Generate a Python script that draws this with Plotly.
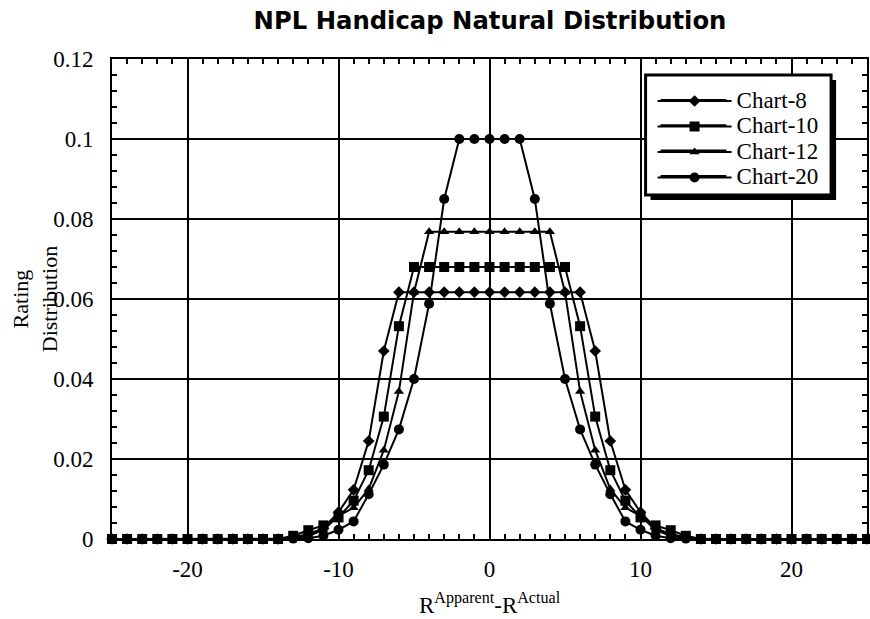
import plotly.graph_objects as go

x_vals = list(range(-25, 26))

chart8 = [0, 0, 0, 0, 0, 0, 0, 0, 0, 0, 0, 0,
          0.0005, 0.0012, 0.0027, 0.0067, 0.0123, 0.0245, 0.047,
          0.0617, 0.0617, 0.0617, 0.0617, 0.0617, 0.0617, 0.0617, 0.0617, 0.0617, 0.0617, 0.0617, 0.0617, 0.0617,
          0.047, 0.0245, 0.0123, 0.0067, 0.0027, 0.0012, 0.0005,
          0, 0, 0, 0, 0, 0, 0, 0, 0, 0, 0, 0]

chart10 = [0, 0, 0, 0, 0, 0, 0, 0, 0, 0, 0, 0,
           0.0008, 0.0022, 0.0034, 0.0054, 0.0096, 0.0172, 0.0306, 0.0532,
           0.068, 0.068, 0.068, 0.068, 0.068, 0.068, 0.068, 0.068, 0.068, 0.068, 0.068,
           0.0532, 0.0306, 0.0172, 0.0096, 0.0054, 0.0034, 0.0022, 0.0008,
           0, 0, 0, 0, 0, 0, 0, 0, 0, 0, 0, 0]

chart12 = [0, 0, 0, 0, 0, 0, 0, 0, 0, 0, 0, 0,
           0.0002, 0.0008, 0.0022, 0.0058, 0.0078, 0.0125, 0.0222, 0.0369, 0.0617,
           0.0768, 0.0768, 0.0768, 0.0768, 0.0768, 0.0768, 0.0768, 0.0768, 0.0768,
           0.0617, 0.0369, 0.0222, 0.0125, 0.0078, 0.0058, 0.0022, 0.0008, 0.0002,
           0, 0, 0, 0, 0, 0, 0, 0, 0, 0, 0, 0]

chart20 = [0, 0, 0, 0, 0, 0, 0, 0, 0, 0, 0, 0,
           0.0001, 0.0002, 0.0008, 0.0023, 0.0044, 0.0112, 0.0186, 0.0274, 0.040, 0.0588, 0.085,
           0.1, 0.1, 0.1, 0.1, 0.1,
           0.085, 0.0588, 0.040, 0.0274, 0.0186, 0.0112, 0.0044, 0.0023, 0.0008, 0.0002, 0.0001,
           0, 0, 0, 0, 0, 0, 0, 0, 0, 0, 0, 0]

series_names = ["Chart-8", "Chart-10", "Chart-12", "Chart-20"]
series_vals = [chart8, chart10, chart12, chart20]
symbols = ["diamond", "square", "triangle-up", "circle"]
sizes = [9, 10, 9, 10]

x_tickvals = [-20, -10, 0, 10, 20]
x_ticktext = ["-20", "-10", "0", "10", "20"]

SERIF = "Liberation Serif, Times New Roman, serif"
SANS = "DejaVu Sans, Arial, sans-serif"

# pixel geometry of the plot area
L, R, T, B = 112, 1, 59, 80
W, H = 870, 619
PW, PH = W - L - R, H - T - B


def px(xp):
    return (xp - L) / PW


def py(yp):
    return (H - B - yp) / PH


fig = go.Figure()
for name, vals, sym, sz in zip(series_names, series_vals, symbols, sizes):
    fig.add_trace(go.Scatter(
        x=x_vals, y=vals,
        name="<span style='font-size:23px'>" + name + "</span>",
        mode="lines+markers",
        line=dict(color="black", width=2),
        marker=dict(symbol=sym, size=sz, color="black"),
        cliponaxis=False,
    ))

axis_common = dict(
    showgrid=True, gridcolor="black", gridwidth=2,
    showline=True, linecolor="black", linewidth=2, mirror="ticks",
    ticks="inside", ticklen=6, tickwidth=2, tickcolor="black",
    zeroline=False,
    tickfont=dict(family=SERIF, size=23, color="black"),
)

fig.update_xaxes(
    range=[-25, 25], tickmode="array", tickvals=x_tickvals, ticktext=x_ticktext,
    minor=dict(tickmode="linear", tick0=0, dtick=1, ticks="inside", ticklen=5,
               tickwidth=2, tickcolor="black", showgrid=False),
    ticklabelstandoff=8,
    **axis_common,
)
fig.update_yaxes(
    range=[0, 0.12], tick0=0, dtick=0.02,
    minor=dict(dtick=0.004, ticks="inside", ticklen=5, tickwidth=2, tickcolor="black", showgrid=False),
    ticklabelstandoff=12,
    **axis_common,
)

# legend drop shadow and frame
fig.add_shape(type="rect", xref="paper", yref="paper",
              x0=px(652), x1=px(838), y0=py(200), y1=py(80),
              fillcolor="black", line=dict(width=0), layer="above")
fig.add_shape(type="rect", xref="paper", yref="paper",
              x0=px(647), x1=px(833), y0=py(195), y1=py(75),
              fillcolor="white", line=dict(color="black", width=3), layer="above")
for row_y in [100, 125.3, 150.6, 175.9]:
    fig.add_shape(type="line", xref="paper", yref="paper",
                  x0=px(662), x1=px(728), y0=py(row_y), y1=py(row_y),
                  line=dict(color="black", width=2), layer="above")

# axis titles
fig.add_annotation(
    text="Rating<br>Distribution", textangle=-90,
    xref="paper", yref="paper", x=px(35), y=0.5,
    xanchor="center", yanchor="middle", showarrow=False,
    font=dict(family=SERIF, size=22, color="black"),
)
fig.add_annotation(
    text="R<sup>Apparent</sup>-R<sup>Actual</sup>",
    xref="paper", yref="paper", x=0.5, y=py(603),
    xanchor="center", yanchor="middle", showarrow=False,
    font=dict(family=SERIF, size=23, color="black"),
)

fig.update_layout(
    width=W, height=H,
    margin=dict(l=L, r=R, t=T, b=B),
    paper_bgcolor="white", plot_bgcolor="white",
    title=dict(text="<b>NPL Handicap Natural Distribution</b>",
               font=dict(family=SANS, size=24.3, color="black"),
               x=490 / W, xanchor="center", y=1 - 20 / H, yanchor="middle"),
    showlegend=True,
    legend=dict(x=px(654), y=py(83.25), xanchor="left", yanchor="top",
                bgcolor="rgba(0,0,0,0)", borderwidth=0,
                font=dict(family=SERIF, size=17.3, color="black"),
                itemwidth=74, tracegroupgap=0),
)

fig.write_html("out.html", config={"displayModeBar": False},
               post_script="document.body.style.margin='0';")
